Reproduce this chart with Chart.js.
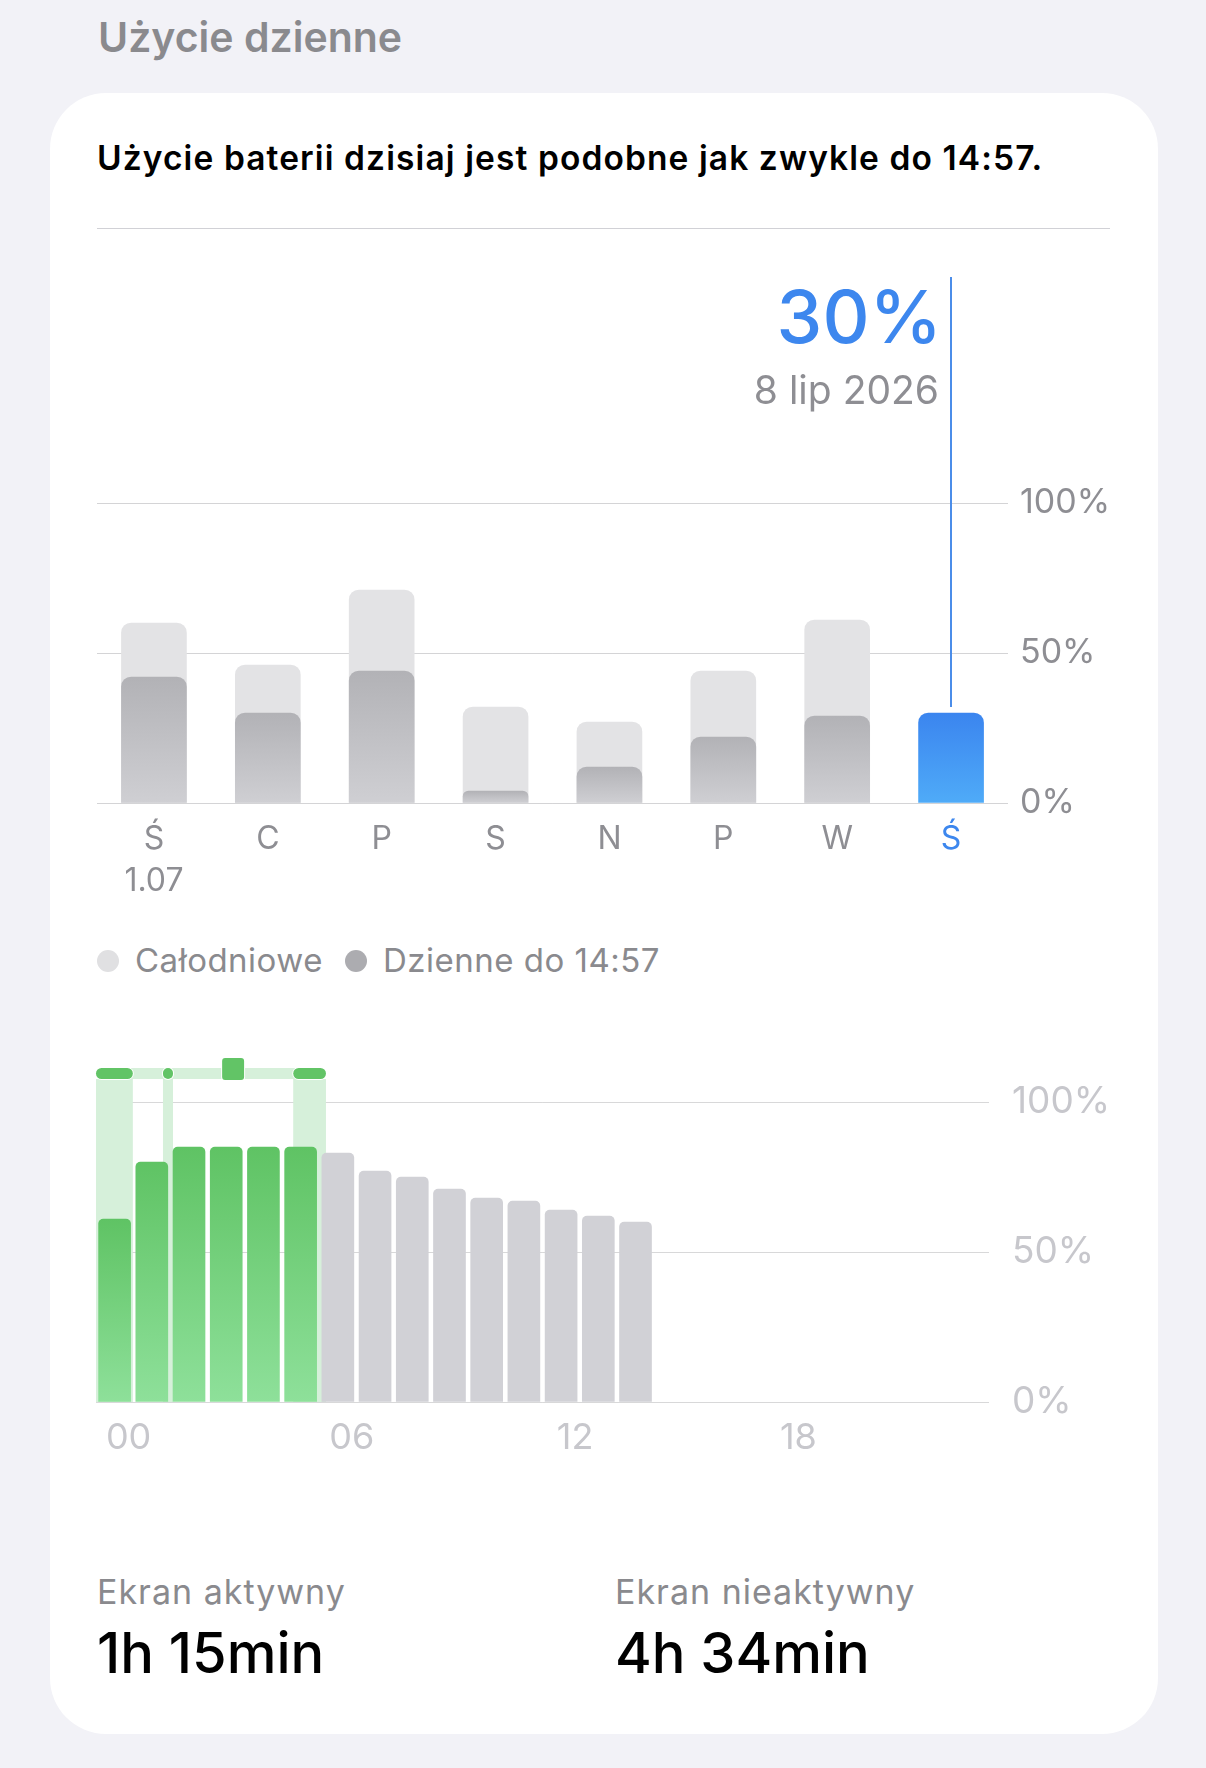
<!DOCTYPE html>
<html lang="pl">
<head>
<meta charset="utf-8">
<title>Użycie dzienne</title>
<script src="https://cdn.jsdelivr.net/npm/chart.js@4.4.1/dist/chart.umd.min.js"></script>
<style>
  html, body { margin: 0; padding: 0; }
  body {
    width: 1206px; height: 1768px; position: relative; overflow: hidden;
    background: #f2f2f7; font-family: Inter, "Noto Sans", sans-serif;
  }
  .txt { position: absolute; white-space: nowrap; line-height: 1; }
  #tytul { left: 98px; top: 17px; font-size: 41px; font-weight: 600; color: #8a8a8e; }
  #karta { position: absolute; left: 50px; top: 93px; width: 1108px; height: 1641px; background: #fff; border-radius: 56px; }
  #naglowek { left: 97px; top: 142px; font-size: 33.5px; font-weight: 600; color: #000; letter-spacing: 1.1px; }
  #linia { position: absolute; left: 97px; top: 228px; width: 1013px; height: 1px; background: #d1d1d6; }
  #wykresDni { position: absolute; left: 0; top: 250px; }
  #wykresGodzin { position: absolute; left: 0; top: 1040px; }
  .kropka { position: absolute; width: 22px; height: 22px; border-radius: 50%; top: 950px; }
  .legenda { top: 944px; font-size: 33px; color: #8a8a8e; letter-spacing: 0.5px; }
  .etykieta { top: 1575px; font-size: 34px; color: #8a8a8e; letter-spacing: 1px; }
  .wartosc { top: 1625px; font-size: 56px; font-weight: 500; color: #000; }
</style>
</head>
<body>
<div id="tytul" class="txt">Użycie dzienne</div>
<div id="karta"></div>
<div id="naglowek" class="txt">Użycie baterii dzisiaj jest podobne jak zwykle do 14:57.</div>
<div id="linia"></div>

<canvas id="wykresDni" width="1140" height="660"></canvas>

<span class="kropka" style="left:97px; background:#e0e0e2"></span>
<div class="txt legenda" style="left:135px">Całodniowe</div>
<span class="kropka" style="left:345px; background:#acacb0"></span>
<div class="txt legenda" style="left:383px">Dzienne do 14:57</div>

<canvas id="wykresGodzin" width="1140" height="440"></canvas>

<div class="txt etykieta" style="left:97px">Ekran aktywny</div>
<div id="ekranAktywny" class="txt wartosc" style="left:97px"></div>
<div class="txt etykieta" style="left:615px">Ekran nieaktywny</div>
<div id="ekranNieaktywny" class="txt wartosc" style="left:615px"></div>

<script>
// dane tygodniowe
const dni = ["Ś", "C", "P", "S", "N", "P", "W", "Ś"];
const pierwszaData = "1.07";
const calodniowe = [60, 46, 71, 32, 27, 44, 61, null];
const dzienneDoTeraz = [42, 30, 44, 4, 12, 22, 29, 30];
const dzisIndex = 7;
const dzisData = "8 lip 2026";
const procentTicks = ["0%", "50%", "100%"];

// dane godzinowe
const godziny = ["00", "01", "02", "03", "04", "05", "06", "07", "08", "09", "10", "11",
  "12", "13", "14", "15", "16", "17", "18", "19", "20", "21", "22", "23"];
const godzinyOpisane = ["00", "06", "12", "18"];
const poziomBaterii = [61, 80, 85, 85, 85, 85, 83, 77, 75, 71, 68, 67, 64, 62, 60];
const godzinyLadowania = 6;
const ladowanieOd = [0, 1.8, 5.3];
const ladowanieDo = [0.99, 2.07, 6.18];
const sesjaLadowania = [0, 6.18];
const wstrzymanie = [3.39, 3.98];

const ekranAktywny = "1h 15min";
const ekranNieaktywny = "4h 34min";

document.getElementById("ekranAktywny").textContent = ekranAktywny;
document.getElementById("ekranNieaktywny").textContent = ekranNieaktywny;

const szary = "#8e8e93";
const jasnySzary = "#c7c7cc";
const niebieski = "#3d87ee";

// gradient od wierzchołka słupka do osi
function gradient(c, gora, dol) {
  const { ctx, chartArea, scales } = c.chart;
  if (!chartArea || c.type !== "data" || c.raw == null) return gora;
  const y = scales.y.getPixelForValue(c.raw);
  const g = ctx.createLinearGradient(0, y, 0, chartArea.bottom);
  g.addColorStop(0, gora);
  g.addColorStop(1, dol);
  return g;
}

const znacznikDzis = {
  id: "znacznikDzis",
  afterDraw(chart) {
    const { ctx, chartArea, scales } = chart;
    const x = Math.round(scales.x.getPixelForValue(dzisIndex));
    const yBar = scales.y.getPixelForValue(dzienneDoTeraz[dzisIndex]);
    ctx.save();
    ctx.strokeStyle = "#4b8de9";
    ctx.lineWidth = 2;
    ctx.beginPath();
    ctx.moveTo(x, chartArea.top - 226);
    ctx.lineTo(x, yBar - 6);
    ctx.stroke();
    ctx.textAlign = "right";
    ctx.textBaseline = "alphabetic";
    ctx.fillStyle = niebieski;
    ctx.font = "500 73px Inter";
    ctx.fillText(dzienneDoTeraz[dzisIndex] + "%", x - 9, chartArea.top - 160);
    ctx.fillStyle = szary;
    ctx.font = "400 39px Inter";
    ctx.fillText(dzisData, x - 12, chartArea.top - 99);
    ctx.restore();
  }
};

new Chart(document.getElementById("wykresDni"), {
  type: "bar",
  data: {
    labels: dni.map((d, i) => (i === 0 ? [d, pierwszaData] : d)),
    datasets: [
      { label: "Całodniowe", data: calodniowe, backgroundColor: "#e3e3e5", order: 1 },
      {
        label: "Dzienne do 14:57",
        data: dzienneDoTeraz,
        order: 0,
        backgroundColor: (c) => c.dataIndex === dzisIndex
          ? gradient(c, "#3b85ef", "#4fabf8")
          : gradient(c, "#b2b2b6", "#cfcfd3")
      }
    ]
  },
  options: {
    responsive: false,
    animation: false,
    events: [],
    layout: { padding: { top: 253, left: 97, right: 0, bottom: 0 } },
    datasets: { bar: { grouped: false, barThickness: 65, borderRadius: 10, borderSkipped: "bottom" } },
    plugins: { legend: { display: false }, tooltip: { enabled: false } },
    scales: {
      x: {
        grid: { display: false },
        border: { display: false },
        ticks: {
          autoSkip: false, maxRotation: 0, padding: 8,
          font: { family: "Inter", size: 32, lineHeight: 1.3 },
          color: (c) => (c.index === dzisIndex ? niebieski : szary)
        },
        afterFit: (s) => { s.height = 107; }
      },
      y: {
        position: "right", min: 0, max: 100, z: 1,
        grid: { color: "rgba(60,60,67,0.22)", drawTicks: false },
        border: { display: false },
        ticks: {
          stepSize: 50, padding: 12,
          font: { family: "Inter", size: 34 }, color: szary,
          callback: (v, i) => procentTicks[i]
        },
        afterFit: (s) => { s.width = 132; }
      }
    }
  },
  plugins: [znacznikDzis]
});

const ladowanie = {
  id: "ladowanie",
  beforeDatasetsDraw(chart) {
    const { ctx, chartArea, scales } = chart;
    const px = (h) => scales.x.getPixelForDecimal(h / 24);
    const pasY = chartArea.top - 34;
    const pasH = 11;
    ctx.save();
    ctx.fillStyle = "#d6f0da";
    ladowanieOd.forEach((od, i) => {
      ctx.fillRect(px(od), pasY + pasH, px(ladowanieDo[i]) - px(od), chartArea.bottom - pasY - pasH);
    });
    ctx.beginPath();
    ctx.roundRect(px(sesjaLadowania[0]), pasY, px(sesjaLadowania[1]) - px(sesjaLadowania[0]), pasH, pasH / 2);
    ctx.fill();
    ctx.fillStyle = "#62c466";
    ctx.strokeStyle = "#fff";
    ctx.lineWidth = 2;
    ladowanieOd.forEach((od, i) => {
      ctx.beginPath();
      ctx.roundRect(px(od), pasY, px(ladowanieDo[i]) - px(od), pasH, pasH / 2);
      ctx.stroke();
      ctx.fill();
    });
    ctx.beginPath();
    ctx.roundRect(px(wstrzymanie[0]), chartArea.top - 44, px(wstrzymanie[1]) - px(wstrzymanie[0]), 22, 3);
    ctx.stroke();
    ctx.fill();
    ctx.restore();
  }
};

new Chart(document.getElementById("wykresGodzin"), {
  type: "bar",
  data: {
    labels: godziny,
    datasets: [{
      label: "Poziom baterii",
      data: poziomBaterii,
      backgroundColor: (c) => c.dataIndex < godzinyLadowania
        ? gradient(c, "#5fc364", "#8ee09a")
        : "#d1d1d6"
    }]
  },
  options: {
    responsive: false,
    animation: false,
    events: [],
    layout: { padding: { top: 62, left: 96, right: 0, bottom: 0 } },
    datasets: { bar: { barThickness: 32, borderRadius: 5, borderSkipped: "bottom" } },
    plugins: { legend: { display: false }, tooltip: { enabled: false } },
    scales: {
      x: {
        grid: { display: false },
        border: { display: false },
        ticks: {
          autoSkip: false, maxRotation: 0, padding: 7, labelOffset: 14,
          font: { family: "Inter", size: 36 }, color: jasnySzary,
          callback: (v, i) => (godzinyOpisane.includes(godziny[i]) ? godziny[i] : "")
        },
        afterFit: (s) => { s.height = 78; }
      },
      y: {
        position: "right", min: 0, max: 100, z: 1,
        grid: { color: "rgba(60,60,67,0.2)", drawTicks: false },
        border: { display: false },
        ticks: {
          stepSize: 50, padding: 23,
          font: { family: "Inter", size: 37 }, color: jasnySzary,
          callback: (v, i) => procentTicks[i]
        },
        afterFit: (s) => { s.width = 151; }
      }
    }
  },
  plugins: [ladowanie]
});
</script>
</body>
</html>
